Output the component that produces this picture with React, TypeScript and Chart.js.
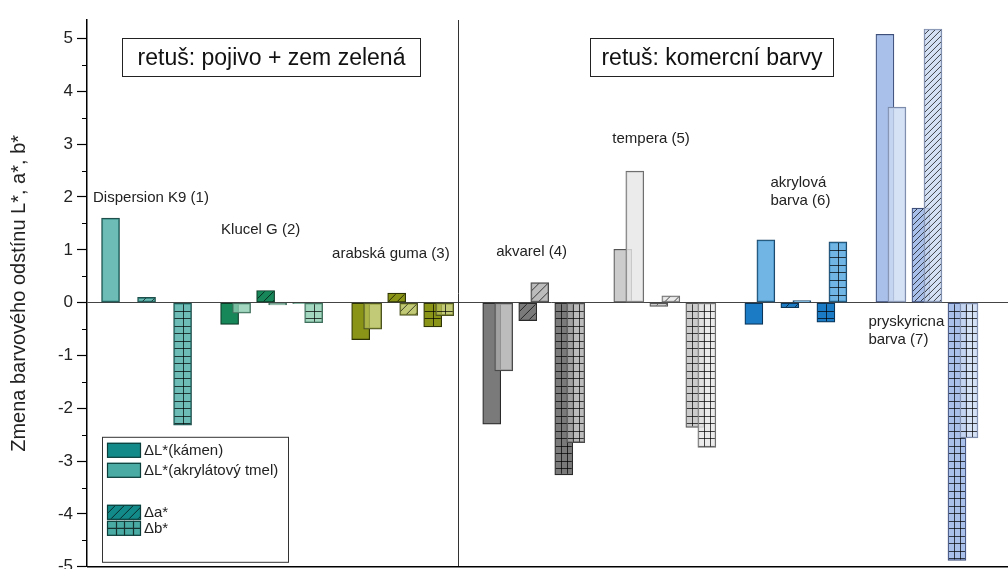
import React, { useEffect, useRef } from 'react';
import { Chart, registerables } from 'chart.js';

Chart.register(...registerables);

// ---------------- data ----------------
const categories = [
  'Dispersion K9 (1)',
  'Klucel G (2)',
  'arabská guma (3)',
  'akvarel (4)',
  'tempera (5)',
  'akrylová barva (6)',
  'pryskyricna barva (7)',
];
const groupLabelLines = [
  ['Dispersion K9 (1)'],
  ['Klucel G (2)'],
  ['arabská guma (3)'],
  ['akvarel (4)'],
  ['tempera (5)'],
  ['akrylová', 'barva (6)'],
  ['pryskyricna', 'barva (7)'],
];
const dLKamen = [null, -0.41, -0.7, -2.3, 1.01, -0.41, 5.08];
const dLTmel = [1.6, -0.2, -0.5, -1.29, 2.49, 1.19, 3.7];
const daKamen = [null, 0.23, 0.18, -0.34, -0.07, -0.095, 1.79];
const daTmel = [0.1, -0.045, -0.24, 0.38, 0.13, 0.04, 5.18];
const dbKamen = [null, -0.015, -0.46, -3.26, -2.36, -0.37, -4.88];
const dbTmel = [-2.32, -0.38, -0.245, -2.65, -2.74, 1.15, -2.56];
const yTickValues = [-5, -4, -3, -2, -1, 0, 1, 2, 3, 4, 5];
const panelTitles = ['retuš: pojivo + zem zelená', 'retuš: komercní barvy'];
const legendLabels = ['ΔL*(kámen)', 'ΔL*(akrylátový tmel)', 'Δa*', 'Δb*'];
const yAxisTitle = 'Zmena barvového odstínu L*, a*, b*';

// ---------------- styles / layout ----------------
const FONT = '"Liberation Sans", Arial, Helvetica, sans-serif';
const kamenFill = ['#138a8a', '#17875a', '#8a9416', '#7a7a7a', '#cccccc', '#1b7cc5', '#a9c0ea'];
const tmelFill = ['#4aaba4', '#8ccdb0', '#b4bd55', '#ababab', '#e6e6e6', '#4ca2dd', '#cbdaf3'];
const kamenBorder = ['#0d3d3a', '#0b3a26', '#2e3306', '#2a2a2a', '#555555', '#0b3457', '#3e4f7a'];
const tmelBorder = ['#1f4f4b', '#3f6e5c', '#4b5220', '#4a4a4a', '#6f6f6f', '#1f4a6b', '#7d8bab'];
const gridCols = [2, 2, 2, 3, 3, 2, 3];
const hatchGap = [9, 9, 9, 9, 9, 9, 6];
const GROUP_PX = 131;
const seriesDefs = [
  { label: 'ΔL*(kámen)', values: dLKamen, tmel: false, off: 0, pattern: 'none' },
  { label: 'ΔL*(akrylátový tmel)', values: dLTmel, tmel: true, off: 12 / GROUP_PX, pattern: 'none' },
  { label: 'Δa*(kámen)', values: daKamen, tmel: false, off: 36 / GROUP_PX, pattern: 'hatch' },
  { label: 'Δa*(tmel)', values: daTmel, tmel: true, off: 48 / GROUP_PX, pattern: 'hatch' },
  { label: 'Δb*(kámen)', values: dbKamen, tmel: false, off: 72 / GROUP_PX, pattern: 'grid' },
  { label: 'Δb*(tmel)', values: dbTmel, tmel: true, off: 84 / GROUP_PX, pattern: 'grid' },
];
const dividerAt = 2.744;
const groupLabelPos = [
  [-0.042, 1.98],
  [0.935, 1.375],
  [1.782, 0.92],
  [3.034, 0.96],
  [3.92, 3.1],
  [5.126, 2.27],
  [5.874, -0.365],
];
const panelBoxes = [
  [0.179, 5.01, 2.454, 4.29],
  [3.752, 5.01, 5.607, 4.29],
];

function rgba(hex: string, a: number) {
  const n = parseInt(hex.slice(1), 16);
  return `rgba(${(n >> 16) & 255},${(n >> 8) & 255},${n & 255},${a})`;
}

function drawPattern(ctx: CanvasRenderingContext2D, kind: string, left: number, top: number, w: number, h: number, base: number, up: boolean, g: number) {
  ctx.save();
  ctx.beginPath();
  ctx.rect(left + 1, top + 1, w - 2, h - 2);
  ctx.clip();
  ctx.strokeStyle = 'rgba(0,0,0,0.7)';
  ctx.lineWidth = 1;
  ctx.beginPath();
  const bottom = top + h;
  if (kind === 'grid') {
    const cols = gridCols[g];
    const cw = w / cols;
    for (let i = 1; i < cols; i++) {
      const xx = Math.round(left + i * cw) + 0.5;
      ctx.moveTo(xx, top);
      ctx.lineTo(xx, bottom);
    }
    const rh = 7.5;
    if (up) {
      for (let yy = base - rh; yy > top; yy -= rh) {
        ctx.moveTo(left, Math.round(yy) + 0.5);
        ctx.lineTo(left + w, Math.round(yy) + 0.5);
      }
    } else {
      for (let yy = base + rh; yy < bottom; yy += rh) {
        ctx.moveTo(left, Math.round(yy) + 0.5);
        ctx.lineTo(left + w, Math.round(yy) + 0.5);
      }
    }
  } else if (kind === 'hatch') {
    const gap = hatchGap[g];
    for (let x0 = left - h; x0 < left + w + gap; x0 += gap) {
      ctx.moveTo(x0, bottom);
      ctx.lineTo(x0 + h, top);
    }
  }
  ctx.stroke();
  ctx.restore();
}

const patternPlugin = {
  id: 'patternPlugin',
  afterDatasetDraw(chart: any, args: any) {
    const ds = chart.data.datasets[args.index];
    if (!ds.pattern || ds.pattern === 'none') return;
    const ctx = chart.ctx;
    args.meta.data.forEach((el: any, g: number) => {
      const raw = ds.data[g];
      if (!raw || raw.y == null) return;
      const p = el.getProps(['x', 'y', 'base', 'width'], true);
      const left = p.x - p.width / 2;
      const top = Math.min(p.y, p.base);
      const h = Math.abs(p.base - p.y);
      if (h < 3) return;
      drawPattern(ctx, ds.pattern, left, top, p.width, h, p.base, p.y < p.base, g);
    });
  },
};

const decorPlugin = {
  id: 'decorPlugin',
  afterDraw(chart: any) {
    const ctx: CanvasRenderingContext2D = chart.ctx;
    const xs = chart.scales.x;
    const ys = chart.scales.y;
    const ca = chart.chartArea;
    ctx.save();
    // divider between panels
    ctx.strokeStyle = '#333';
    ctx.lineWidth = 1;
    const dx = Math.round(xs.getPixelForValue(dividerAt)) + 0.5;
    ctx.beginPath();
    ctx.moveTo(dx, ca.top);
    ctx.lineTo(dx, ca.bottom);
    ctx.stroke();
    // bottom axis line
    ctx.strokeStyle = '#000';
    ctx.lineWidth = 1.5;
    ctx.beginPath();
    ctx.moveTo(ca.left, ca.bottom);
    ctx.lineTo(ca.right, ca.bottom);
    ctx.stroke();
    // minor ticks
    ctx.lineWidth = 1.2;
    ctx.beginPath();
    for (let i = 0; i < yTickValues.length - 1; i++) {
      const v = (yTickValues[i] + yTickValues[i + 1]) / 2;
      const py = Math.round(ys.getPixelForValue(v)) + 0.5;
      ctx.moveTo(ca.left - 5, py);
      ctx.lineTo(ca.left, py);
    }
    ctx.stroke();
    // panel title boxes
    panelBoxes.forEach((b, i) => {
      const x1 = Math.round(xs.getPixelForValue(b[0])) + 0.5;
      const x2 = Math.round(xs.getPixelForValue(b[2])) + 0.5;
      const y1 = Math.round(ys.getPixelForValue(b[1])) + 0.5;
      const y2 = Math.round(ys.getPixelForValue(b[3])) + 0.5;
      ctx.fillStyle = '#fff';
      ctx.fillRect(x1, y1, x2 - x1, y2 - y1);
      ctx.strokeStyle = '#222';
      ctx.lineWidth = 1;
      ctx.strokeRect(x1, y1, x2 - x1, y2 - y1);
      ctx.fillStyle = '#111';
      ctx.font = `23px ${FONT}`;
      ctx.textAlign = 'center';
      ctx.textBaseline = 'middle';
      ctx.fillText(panelTitles[i], (x1 + x2) / 2, (y1 + y2) / 2 + 1);
    });
    // group labels
    ctx.fillStyle = '#222';
    ctx.font = `15px ${FONT}`;
    ctx.textAlign = 'left';
    ctx.textBaseline = 'middle';
    groupLabelLines.forEach((lines, g) => {
      const px = xs.getPixelForValue(groupLabelPos[g][0]);
      const py = ys.getPixelForValue(groupLabelPos[g][1]);
      lines.forEach((t, k) => ctx.fillText(t, px, py + k * 18));
    });
    // legend box
    const lx = ca.left + 15;
    const ly = ca.bottom - 130;
    ctx.fillStyle = '#fff';
    ctx.fillRect(lx + 0.5, ly + 0.5, 186, 125);
    ctx.strokeStyle = '#333';
    ctx.lineWidth = 1;
    ctx.strokeRect(lx + 0.5, ly + 0.5, 186, 125);
    const rows = [6, 26, 68, 84];
    const swFill = [kamenFill[0], tmelFill[0], kamenFill[0], tmelFill[0]];
    const swPat = ['none', 'none', 'hatch', 'grid'];
    legendLabels.forEach((t, i) => {
      const sx = lx + 5;
      const sy = ly + rows[i];
      ctx.fillStyle = swFill[i];
      ctx.fillRect(sx, sy, 34, 15);
      if (swPat[i] !== 'none') {
        if (swPat[i] === 'grid') {
          ctx.save();
          ctx.strokeStyle = 'rgba(0,0,0,0.7)';
          ctx.beginPath();
          for (let k = 1; k < 4; k++) {
            ctx.moveTo(Math.round(sx + k * 8.5) + 0.5, sy);
            ctx.lineTo(Math.round(sx + k * 8.5) + 0.5, sy + 15);
          }
          ctx.moveTo(sx, sy + 7.5);
          ctx.lineTo(sx + 34, sy + 7.5);
          ctx.stroke();
          ctx.restore();
        } else {
          drawPattern(ctx, 'hatch', sx, sy, 34, 15, sy + 15, true, 0);
        }
      }
      ctx.strokeStyle = '#0d3d3a';
      ctx.lineWidth = 1.2;
      ctx.strokeRect(sx + 0.5, sy + 0.5, 33, 14);
      ctx.fillStyle = '#222';
      ctx.font = `15px ${FONT}`;
      ctx.textAlign = 'left';
      ctx.textBaseline = 'middle';
      ctx.fillText(t, sx + 37, sy + 8);
    });
    ctx.restore();
  },
};

export default function App() {
  const ref = useRef<HTMLCanvasElement | null>(null);
  useEffect(() => {
    if (!ref.current) return;
    Chart.defaults.font.family = FONT;
    const datasets = seriesDefs.map((sd) => ({
      label: sd.label,
      data: categories.map((_, g) => ({ x: g + sd.off, y: sd.values[g] })),
      backgroundColor: categories.map((_, g) => (sd.tmel ? rgba(tmelFill[g], 0.8) : kamenFill[g])),
      borderColor: categories.map((_, g) => (sd.tmel ? tmelBorder[g] : kamenBorder[g])),
      borderWidth: 1.2,
      borderSkipped: false,
      barThickness: 18,
      grouped: false,
      order: sd.tmel ? 0 : 1,
      pattern: sd.pattern,
    }));
    const chart = new Chart(ref.current, {
      type: 'bar',
      data: { datasets: datasets as any },
      options: {
        animation: false,
        responsive: false,
        devicePixelRatio: 1,
        layout: { padding: { left: 0, right: 0, top: 20, bottom: 14 } },
        plugins: { legend: { display: false }, tooltip: { enabled: false } },
        scales: {
          x: {
            type: 'linear',
            min: -0.088,
            max: 7.0,
            offset: false,
            display: false,
          },
          y: {
            min: -5,
            max: 5.35,
            afterBuildTicks: (scale: any) => {
              scale.ticks = yTickValues.map((v) => ({ value: v }));
            },
            afterFit: (scale: any) => {
              scale.width = 87;
            },
            ticks: {
              color: '#222',
              font: { size: 17 },
              padding: 4,
              callback: (v: any) => String(v),
            },
            grid: {
              drawOnChartArea: true,
              color: (c: any) => (c.tick && c.tick.value === 0 ? '#444' : 'rgba(0,0,0,0)'),
              tickColor: '#000',
              tickLength: 10,
              tickWidth: 1.2,
              lineWidth: 1,
            },
            border: { display: true, color: '#000', width: 1.5 },
            title: {
              display: true,
              text: yAxisTitle,
              color: '#222',
              font: { size: 20 },
              padding: { top: 7, bottom: 0 },
            },
          },
        },
      },
      plugins: [patternPlugin, decorPlugin],
    } as any);
    return () => chart.destroy();
  }, []);
  return (
    <div style={{ position: 'fixed', left: 0, top: 0, width: 1008, height: 569, overflow: 'hidden', background: '#fff' }}>
      <canvas ref={ref} width={1016} height={581} style={{ display: 'block', width: 1016, height: 581 }} />
    </div>
  );
}
